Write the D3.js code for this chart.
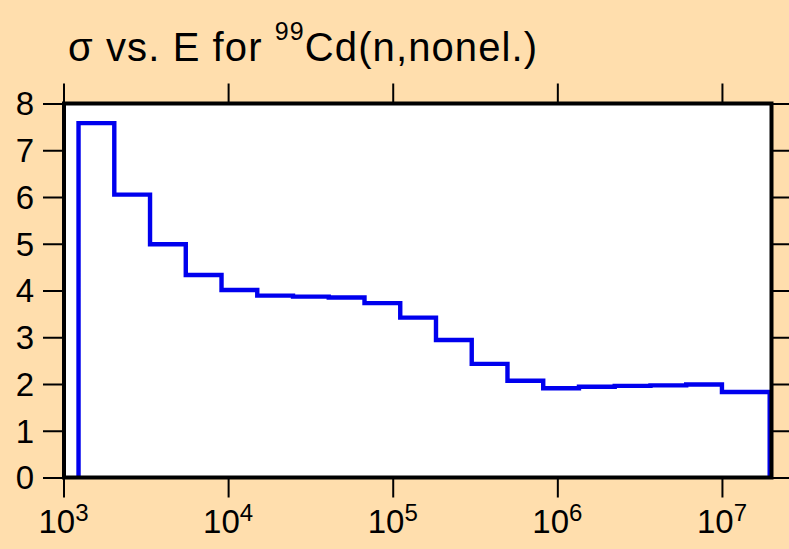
<!DOCTYPE html>
<html>
<head>
<meta charset="utf-8">
<script src="https://cdn.jsdelivr.net/npm/d3@7"></script>
<style>
  html, body { margin: 0; padding: 0; background: #FFDEAD; }
  svg { display: block; }
  text { font-family: "Liberation Sans", Arial, sans-serif; fill: #000; }
</style>
</head>
<body>
<svg id="chart" width="789" height="549"></svg>
<script>
// Group boundaries (eV), ascending
const energyEdges = [1234, 2035, 3355, 5531, 9119, 15034, 24788, 40868, 67379,
  111090, 183160, 301970, 497870, 820850, 1353400, 2231300, 3678800, 6065300,
  10000000, 19500000];
// Cross section (b) for each group
const sigmaValues = [7.58, 6.05, 4.99, 4.33, 4.01, 3.89, 3.87, 3.85, 3.73,
  3.42, 2.94, 2.43, 2.07, 1.91, 1.94, 1.96, 1.97, 1.99, 1.83];
const xTickExponents = [3, 4, 5, 6, 7];
const yTicks = [0, 1, 2, 3, 4, 5, 6, 7, 8];
const titleParts = ["\u03C3 vs. E for ", "99", "Cd(n,nonel.)"];

const svg = d3.select("#chart");
const L = 64, R = 771.5, T = 103.5, B = 477.5;

const x = d3.scaleLog().domain([1e3, 2e7]).range([63.5, R]);
const y = d3.scaleLinear().domain([0, 8]).range([B, T]);

// plot background
svg.append("rect").attr("x", L).attr("y", T).attr("width", R - L).attr("height", B - T)
  .attr("fill", "#fff");

// data step line
const pts = [[energyEdges[0], 0]];
sigmaValues.forEach((v, i) => pts.push([energyEdges[i], v]));
pts.push([energyEdges[energyEdges.length - 1], sigmaValues[sigmaValues.length - 1]]);
pts.push([energyEdges[energyEdges.length - 1], 0]);

const line = d3.line().x(d => x(d[0])).y(d => y(d[1])).curve(d3.curveStepAfter);
svg.append("path").datum(pts).attr("d", line)
  .attr("fill", "none").attr("stroke", "#0000ee").attr("stroke-width", 4.4)
  .attr("stroke-linejoin", "miter");

// axes ticks
const xTickVals = xTickExponents.map(e => Math.pow(10, e));
function styleAxis(g) {
  g.select(".domain").remove();
  g.selectAll(".tick line").attr("stroke", "#000").attr("stroke-width", 2);
  g.selectAll(".tick text").remove();
}
svg.append("g").attr("transform", `translate(0,${B})`)
  .call(d3.axisBottom(x).tickValues(xTickVals).tickSize(20)).call(styleAxis);
svg.append("g").attr("transform", `translate(0,${T})`)
  .call(d3.axisTop(x).tickValues(xTickVals).tickSize(20)).call(styleAxis);
svg.append("g").attr("transform", `translate(${L},0)`)
  .call(d3.axisLeft(y).tickValues(yTicks).tickSize(21)).call(styleAxis);
svg.append("g").attr("transform", `translate(${R},0)`)
  .call(d3.axisRight(y).tickValues(yTicks).tickSize(20)).call(styleAxis);

// frame
svg.append("rect").attr("x", L).attr("y", T).attr("width", R - L).attr("height", B - T)
  .attr("fill", "none").attr("stroke", "#000").attr("stroke-width", 4);

// y labels
svg.append("g").selectAll("text").data(yTicks).join("text")
  .attr("x", 34).attr("y", d => y(d)).attr("dy", "0.36em")
  .attr("text-anchor", "end").style("font-size", "33px").text(d => d);

// x labels
const xl = svg.append("g").selectAll("text").data(xTickExponents).join("text")
  .attr("x", d => x(Math.pow(10, d))).attr("y", 533)
  .attr("text-anchor", "middle").style("font-size", "33px");
xl.append("tspan").text("10");
xl.append("tspan").attr("dy", -12).style("font-size", "24px").text(d => d);

// title
const title = svg.append("text").attr("x", 68).attr("y", 61)
  .style("font-size", "40px").style("letter-spacing", "1.1px");
title.append("tspan").text(titleParts[0]);
title.append("tspan").attr("dy", -21).style("font-size", "25px").text(titleParts[1]);
title.append("tspan").attr("dy", 21).text(titleParts[2]);
</script>
</body>
</html>
